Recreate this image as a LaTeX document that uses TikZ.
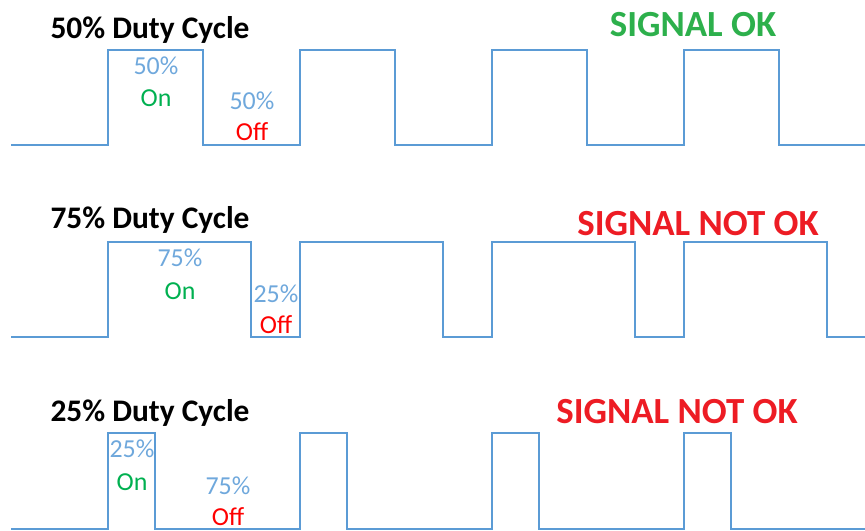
\documentclass[tikz,border=0pt]{standalone}
\usepackage{fontspec}
\setmainfont{Carlito}
\usepackage{tikz}
\usetikzlibrary{positioning}
\definecolor{wave}{HTML}{5B9BD5}
\definecolor{pcttext}{HTML}{6FA8DC}
\definecolor{ongreen}{HTML}{00B050}
\definecolor{okgreen}{HTML}{2DB04C}
\definecolor{badred}{HTML}{ED1C24}

\begin{document}
\begin{tikzpicture}[x=1bp,y=-1bp,
        wave/.style={draw=wave,line width=2.4bp},
        title/.style={font=\fontsize{31.5}{31.5}\selectfont\bfseries,inner sep=0pt},
        verdict/.style={font=\fontsize{37}{37}\selectfont\bfseries,inner sep=0pt},
        pct/.style={text=pcttext,font=\fontsize{26}{26}\selectfont,inner sep=0pt},
        onlbl/.style={text=ongreen,font=\fontsize{26}{26}\selectfont,inner sep=0pt},
        offlbl/.style={text=red,font=\fontsize{26}{26}\selectfont,inner sep=0pt}]
            \useasboundingbox (0,0) rectangle (865,531);
            % 50 %
            \draw[wave] (11,145) \foreach \s in {108,300,492,684}
                {-- (\s,145) -- (\s,50) -- (\s+95,50) -- (\s+95,145)} -- (865,145);
            \node[title] (title1) at (150,30) {50\% Duty Cycle};
            \node[verdict,text=okgreen] (ok1) at (693,25) {SIGNAL OK};
            \node[pct] (on1pct) at (156,66) {50\%};
            \node[onlbl] (on1) at (156,98) {On};
            \node[pct] (off1pct) at (252,101) {50\%};
            \node[offlbl] (off1) at (252,132) {Off};
            % 75 %
            \draw[wave] (11,337) \foreach \s in {108,300,492,684}
                {-- (\s,337) -- (\s,242) -- (\s+143,242) -- (\s+143,337)} -- (865,337);
            \node[title] (title2) at (150,220) {75\% Duty Cycle};
            \node[verdict,text=badred] (ok2) at (698,224) {SIGNAL NOT OK};
            \node[pct] (on2pct) at (180,258) {75\%};
            \node[onlbl] (on2) at (180,291) {On};
            \node[pct] (off2pct) at (276,294) {25\%};
            \node[offlbl] (off2) at (276,325) {Off};
            % 25 %
            \draw[wave] (11,529) \foreach \s in {108,300,492,684}
                {-- (\s,529) -- (\s,433) -- (\s+47,433) -- (\s+47,529)} -- (865,529);
            \node[title] (title3) at (150,413) {25\% Duty Cycle};
            \node[verdict,text=badred] (ok3) at (677,412) {SIGNAL NOT OK};
            \node[pct] (on3pct) at (132,449) {25\%};
            \node[onlbl] (on3) at (132,482) {On};
            \node[pct] (off3pct) at (228,486) {75\%};
            \node[offlbl] (off3) at (228,517) {Off};
\end{tikzpicture}
\end{document}
